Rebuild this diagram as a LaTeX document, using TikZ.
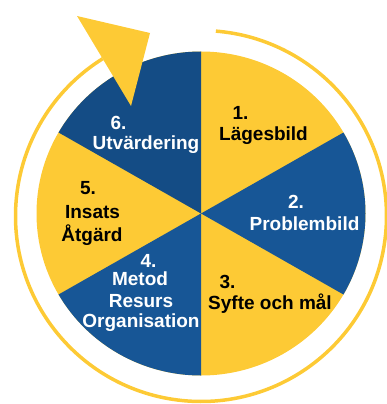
\documentclass[tikz,border=0pt]{standalone}
\usepackage{fontspec}
\setmainfont{Liberation Sans}
\definecolor{yel}{HTML}{FDCA35}
\definecolor{blueA}{HTML}{175696}
\definecolor{blueB}{HTML}{144C85}
\begin{document}
\begin{tikzpicture}[x=1pt,y=1pt,
  lbl/.style={inner sep=0pt,anchor=base,font=\fontsize{19}{22}\selectfont\bfseries},
  dk/.style={lbl,text=black},
  wt/.style={lbl,text=white}]
\useasboundingbox (0,0) rectangle (387,-404);
\coordinate (C) at (201,-213.5);
\coordinate (R) at (201,-216);
% pie
\fill[yel] (C) ellipse[x radius=164.5,y radius=162];
\fill[blueA] (C) -- +(30:164.5 and 162) arc[start angle=30,end angle=-30,x radius=164.5,y radius=162] -- cycle;
\fill[blueA] (C) -- +(-90:164.5 and 162) arc[start angle=-90,end angle=-150,x radius=164.5,y radius=162] -- cycle;
\fill[blueB] (C) -- +(150:164.5 and 162) arc[start angle=150,end angle=90,x radius=164.5,y radius=162] -- cycle;
% ring with arrow
\draw[yel,line width=3.5] (R) ++(85.4:185.5) arc[start angle=85.4,end angle=-238,radius=185.5];
\fill[yel] (77,-16) -- (150,-33) -- (131,-106) -- cycle;
% labels
\node[dk] (n1) at (240.5,-119) {1.};
\node[dk] (t1) at (263.5,-140) {Lägesbild};
\node[wt] (n2) at (296,-208) {2.};
\node[wt] (t2) at (304.5,-230) {Problembild};
\node[dk] (n3) at (227.5,-288.5) {3.};
\node[dk] (t3) at (270,-309) {Syfte och mål};
\node[wt] (n4) at (148.5,-267) {4.};
\node[wt] (t4a) at (140,-285) {Metod};
\node[wt] (t4b) at (141,-307) {Resurs};
\node[wt] (t4c) at (141,-327) {Organisation};
\node[dk] (n5) at (88,-194) {5.};
\node[dk] (t5a) at (92.5,-218) {Insats};
\node[dk] (t5b) at (92,-241) {Åtgärd};
\node[wt] (n6) at (118.5,-129) {6.};
\node[wt] (t6) at (146,-149) {Utvärdering};
\end{tikzpicture}
\end{document}
